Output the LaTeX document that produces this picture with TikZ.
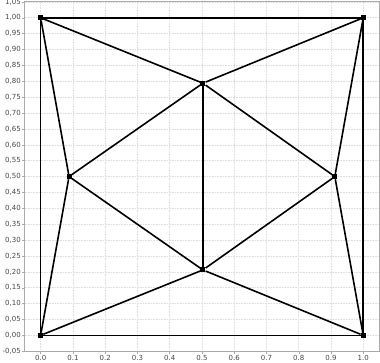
\documentclass[tikz,border=0pt]{standalone}
\usepackage{fontspec}
\setsansfont{DejaVu Sans}
\usetikzlibrary{positioning}
\definecolor{gridgray}{RGB}{222,222,222}
\definecolor{framegray}{RGB}{170,170,170}
\definecolor{ticktext}{RGB}{70,70,70}

\begin{document}
\begin{tikzpicture}[x=322.6pt,y=317.6pt,
  vtx/.style={rectangle,fill=black,inner sep=0pt,minimum size=5pt},
  edge/.style={line width=1.6pt,black},
  ticklab/.style={font=\sffamily\fontsize{7}{8}\selectfont,text=ticktext,inner sep=1pt}]
\useasboundingbox (-0.126,-0.084) rectangle (1.052,1.056);
% grid
\foreach \i in {0,...,10}
  \draw[gridgray,densely dotted,line width=0.6pt] (\i/10,-0.05) -- (\i/10,1.05);
\foreach \k in {0,...,21}
  \draw[gridgray,densely dotted,line width=0.6pt] (-0.05,\k/20) -- (1.05,\k/20);
\draw[framegray,line width=0.8pt] (-0.05,-0.05) rectangle (1.05,1.05);
% x labels
\foreach \i in {0,...,9} {
  \draw[framegray] (\i/10,-0.05) -- ++(0,-3pt);
  \node[ticklab,anchor=north] at (\i/10,-0.058) {0.\i};
}
\draw[framegray] (1,-0.05) -- ++(0,-3pt);
\node[ticklab,anchor=north] at (1,-0.058) {1.0};
% y labels
\foreach \k in {0,...,21} {
  \pgfmathtruncatemacro{\ip}{\k*5/100}
  \pgfmathtruncatemacro{\fp}{\k*5-100*\ip}
  \draw[framegray] (-0.05,\k/20) -- ++(-3pt,0);
  \node[ticklab,anchor=east] at (-0.058,\k/20) {\ip,\ifnum\fp<10 0\fi\fp};
}
\draw[framegray] (-0.05,-0.05) -- ++(-3pt,0);
\node[ticklab,anchor=east] at (-0.058,-0.05) {-0,05};
% mesh vertices
\node[vtx] (p1) at (0,0) {};
\node[vtx] (p2) at (1,0) {};
\node[vtx] (p3) at (1,1) {};
\node[vtx] (p4) at (0,1) {};
\node[vtx] (pl) at (0.088,0.5) {};
\node[vtx] (pr) at (0.912,0.5) {};
\node[vtx] (pt) at (0.503,0.794) {};
\node[vtx] (pb) at (0.503,0.206) {};
% mesh edges
\draw[edge] (p1) -- (p2);
\draw[edge] (p2) -- (p3);
\draw[edge] (p3) -- (p4);
\draw[edge] (p4) -- (p1);
\draw[edge] (p4) -- (pl);
\draw[edge] (p1) -- (pl);
\draw[edge] (p3) -- (pr);
\draw[edge] (p2) -- (pr);
\draw[edge] (p4) -- (pt);
\draw[edge] (p3) -- (pt);
\draw[edge] (p1) -- (pb);
\draw[edge] (p2) -- (pb);
\draw[edge] (pl) -- (pt);
\draw[edge] (pr) -- (pt);
\draw[edge] (pl) -- (pb);
\draw[edge] (pr) -- (pb);
\draw[edge] (pt) -- (pb);
\end{tikzpicture}
\end{document}
